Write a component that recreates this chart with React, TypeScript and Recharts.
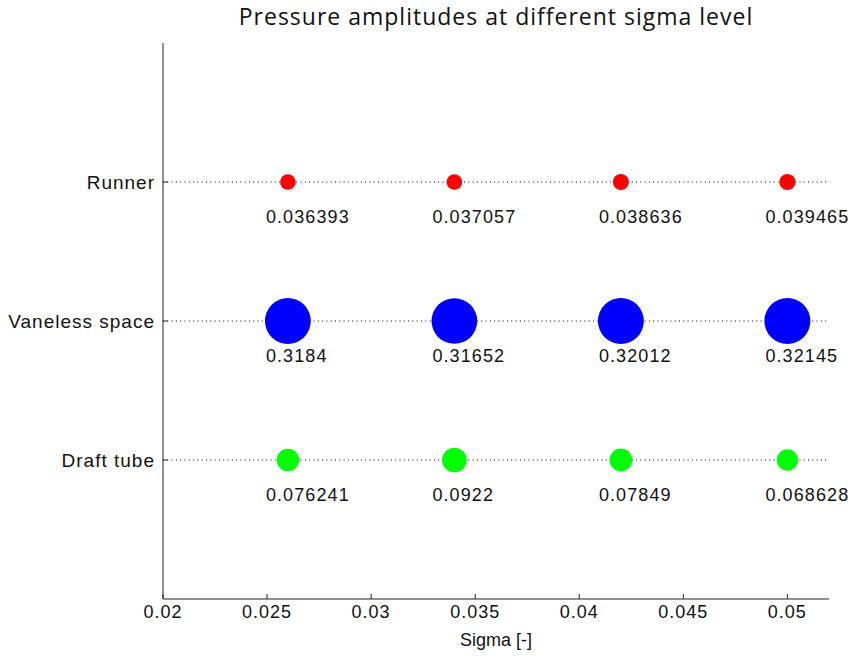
import { ReferenceLine, Scatter, ScatterChart, XAxis, YAxis, ZAxis } from 'recharts';

const sigma = [0.026, 0.034, 0.042, 0.05];
const levels = ['Draft tube', 'Vaneless space', 'Runner'];
const draftTube = [0.076241, 0.0922, 0.07849, 0.068628];
const vaneless = [0.3184, 0.31652, 0.32012, 0.32145];
const runner = [0.036393, 0.037057, 0.038636, 0.039465];
const xTicks = [0.02, 0.025, 0.03, 0.035, 0.04, 0.045, 0.05];

const series = [
  { name: 'Draft tube', level: 1, values: draftTube, color: '#00ff00' },
  { name: 'Vaneless space', level: 2, values: vaneless, color: '#0000ff' },
  { name: 'Runner', level: 3, values: runner, color: '#ff0000' },
];

const font = '"Liberation Sans", Arial, sans-serif';

// circle + amplitude text underneath, offset like matlab text(x-0.001, y-0.25)
function Dot(props: any) {
  const { cx, cy, size, fill, payload } = props;
  const r = Math.sqrt(size / Math.PI);
  return (
    <g>
      <circle cx={cx} cy={cy} r={r} fill={fill} />
      <text x={cx - 22} y={cy + 35} dominantBaseline="central" fontSize={18} letterSpacing={1.1}
        fontFamily={font} fill="#111">
        {String(payload.amp)}
      </text>
    </g>
  );
}

export default function App() {
  const tick = { fontSize: 18, fill: '#111', fontFamily: font, letterSpacing: 1 };
  return (
    <div style={{ position: 'absolute', left: 0, top: 0, width: 854, height: 660, background: '#fff' }}>
      <div style={{ position: 'absolute', left: 163, width: 666, top: 0, textAlign: 'center',
        fontFamily: '"Open Sans", sans-serif', fontSize: 23, letterSpacing: 1, color: '#111' }}>
        Pressure amplitudes at different sigma level
      </div>
      <ScatterChart width={854} height={660} margin={{ top: 43, right: 25, bottom: 0, left: 0 }}>
        <XAxis type="number" dataKey="sigma" domain={[0.02, 0.052]} ticks={xTicks} interval={0}
          tickFormatter={(v) => String(v)} height={61} tickSize={-5} tickMargin={11}
          axisLine={{ stroke: '#222' }} tickLine={{ stroke: '#222' }} tick={tick}
          label={{ value: 'Sigma [-]', position: 'insideBottom', offset: 14, fontSize: 18, fill: '#111', fontFamily: font }} />
        <YAxis type="number" dataKey="level" domain={[0, 4]} ticks={[1, 2, 3]} interval={0}
          tickFormatter={(v) => levels[v - 1]} width={163} tickSize={-5} tickMargin={13}
          axisLine={{ stroke: '#222' }} tickLine={{ stroke: '#222' }} tick={{ ...tick, fontSize: 19 }} />
        <ZAxis type="number" dataKey="amp" domain={[0, 0.33]} range={[0, 1710]} />
        {series.map((s) => (
          <ReferenceLine key={'l' + s.level} y={s.level} stroke="#000" strokeDasharray="1 3.3" />
        ))}
        {series.map((s) => (
          <Scatter key={s.name} name={s.name} fill={s.color} isAnimationActive={false} shape={<Dot />}
            data={sigma.map((x, i) => ({ sigma: x, level: s.level, amp: s.values[i] }))} />
        ))}
      </ScatterChart>
    </div>
  );
}
